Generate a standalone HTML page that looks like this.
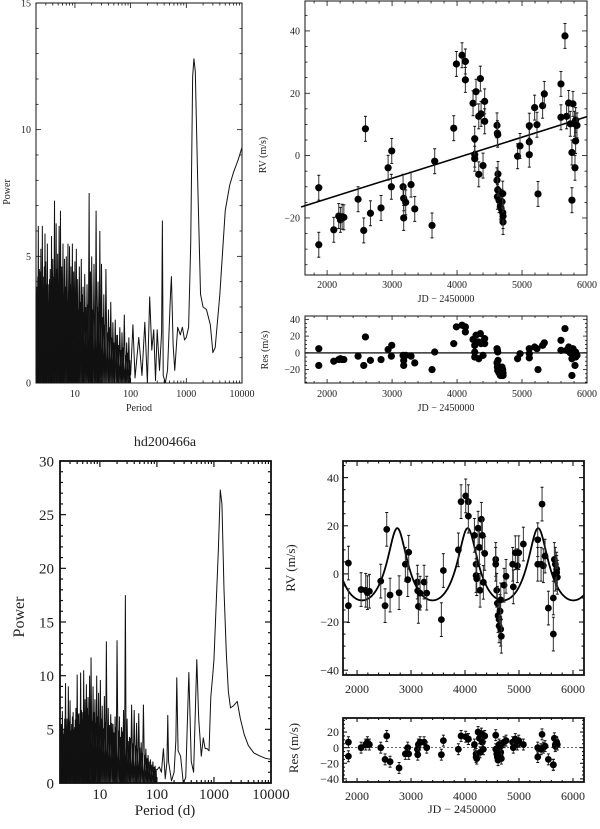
<!DOCTYPE html>
<html><head><meta charset="utf-8"><style>
html,body{margin:0;padding:0;background:#fff}
svg{display:block}
text{font-family:"Liberation Serif",serif;fill:#222}
</style></head><body>
<svg id="fig" width="600" height="829" viewBox="0 0 600 829" xmlns="http://www.w3.org/2000/svg"></svg>
<script>
// ---------- Panel A (top periodogram) ----------
const aSpikeP=[2,2.1,2.2,2.3,2.45,2.6,2.75,2.9,3,3.2,3.4,3.6,3.8,4,4.3,4.6,4.9,5.2,5.5,5.8,6.1,6.5,7,7.5,8,8.5,9,9.5,10,10.6,11.2,12,13,14,15,16.5,18,19,20,22,24,26,28,30,33,36,40,44,48,53,58,64,70,77,85,93];
const aSpikePow=[4.7,3.8,6.2,4.5,5.3,6.2,4.2,5.9,4.8,5.5,3.9,4.5,5.8,4.9,7.2,6.3,5.1,6.2,6.8,4.6,5.5,4.9,5.0,5.5,5.4,4.6,5.5,4.4,4.8,5.3,4.1,4.6,4.9,3.8,4.3,3.9,7.5,4.4,5.0,4.7,6.8,4.0,6.0,4.7,3.5,4.5,2.9,3.2,2.4,2.5,1.9,2.2,2.0,2.7,1.6,1.8];
const aSpike2P=[2.05,2.15,2.25,2.38,2.52,2.68,2.82,2.95,3.1,3.3,3.5,3.7,3.9,4.15,4.45,4.75,5.05,5.35,5.65,5.95,6.3,6.75,7.25,7.75,8.25,8.75,9.25,9.75,10.3,10.9,11.6,12.5,13.5,14.5,15.7,17.2,18.5,19.5,21,23,25,27,29,31.5,34.5,38,42,46,50,55,61,67,73,81,89,97];
const aSpike2Pow=[3.5,4.2,3.0,4.4,3.8,3.2,4.6,3.6,3.9,3.0,4.1,3.4,3.7,4.2,3.3,4.5,3.8,3.9,3.1,4.0,3.5,3.8,3.2,3.6,3.9,3.1,3.3,3.7,3.0,3.4,2.9,3.2,3.5,2.8,3.0,3.1,2.7,3.4,2.9,2.6,3.0,2.8,2.4,2.6,2.3,2.0,2.2,1.8,1.6,1.9,1.5,1.3,1.4,1.1,1.2,0.9];
const aSmoothP=[100,110,120,140,160,180,200,220,240,260,280,300,330,360,372,385,420,460,520,540,580,620,700,780,850,930,1000,1100,1200,1300,1370,1450,1600,1800,2000,2300,2700,3000,3300,4000,5000,6000,7000,8500,10000];
const aSmoothPow=[0.3,2.3,0.2,1.8,0.3,2.4,0,3.4,1.3,2.1,0.1,2.1,0.5,2.0,6.4,0.3,0,0.5,3.5,4.2,1.5,0.5,2.2,1.9,2.2,1.7,1.8,2.2,5.5,12.1,12.8,12.3,8,3.5,3,2.9,2.3,1.2,1.4,3.5,6.8,7.8,8.3,8.8,9.3];
// ---------- Panel B (top RV) ----------
const bJD=[1872,1872,2103,2179,2205,2231,2258,2477,2564,2590,2667,2830,2939,2995,2989,3169,3179,3179,3210,3292,3349,3615,3656,3949,3990,4077,4128,4128,4246,4272,4272,4272,4292,4334,4334,4359,4370,4400,4425,4425,4615,4621,4626,4630,4615,4621,4626,4646,4667,4677,4692,4703,4708,4708,4703,4932,4969,5112,5112,5112,5194,5230,5246,5317,5343,5599,5599,5661,5686,5718,5815,5743,5768,5768,5784,5809,5825,5825,5846];
const bRV=[-10.3,-28.6,-23.8,-19.4,-20.6,-19.6,-19.8,-14,-24,8.6,-18.5,-16.8,-3.9,1.5,-10,-10,-13.7,-20,-15,-9.3,-17.1,-22.4,-1.8,8.8,29.4,32.2,30.2,24.3,16.8,5.4,0.3,-1,20.5,12.6,-6,24.7,13.4,-3.2,17.4,11,9.7,7.2,6.7,-5.9,-7.9,-13.2,-11,-14.3,-16.4,-16.9,-14.8,-18.3,-21.3,-19.4,-12.2,-0.2,3.1,9.6,4.4,0.3,15.4,9.9,-12.3,16,19.8,23,12.3,38.4,12.6,16.9,-3.9,10.2,1,-14.3,16.6,10.2,11.4,4.7,9.7];
const bErr=4;
const bLineJD=[1600,6000];
const bLineRV=[-16.5,12.5];
const bRes=[5,-15,-10,-8,-7,-8,-8,-4,-15,19,-9,-8,4,9,-4,-3,-9,-15,-3,-4,-12,-20,1,11,31,33,31,25,16,9,1,-5,21,13,-7,23,11,-3,17,11,5,3,1,-9,-12,-17,-21,-24,-27,-21,-17,-27,-27,-24,-20,-7,-1,5,-1,-6,7,5,-20,9,12,15,3,29,3,7,-15,0,-7,-27,5,-1,-5,1,-3];
// ---------- Panel C (bottom periodogram) ----------
const cSpikeP=[2,2.1,2.2,2.35,2.5,2.65,2.8,3,3.2,3.4,3.6,3.8,4,4.3,4.6,4.9,5.2,5.5,5.8,6.2,6.6,7,7.6,8.2,8.8,9.5,10.2,11,12,13,14,15.5,17,18.5,20,22,24,26,28,30,33,36,40,44,48,53,58,64,70,77,85,93];
const cSpikePow=[4.0,5.5,6.7,5.0,9.3,6.0,9.0,7.7,5.5,6.6,5.2,7.0,10.1,6.5,10.3,6.6,10.5,7.8,9.2,8.0,10.0,11.7,9.0,7.8,10.0,8.4,9.6,7.2,8.1,13.2,7.0,6.4,5.5,6.2,13.3,6.2,5.2,6.8,17.5,6.0,4.3,7.3,6.8,5.6,6.5,3.8,7.3,3.2,2.6,2.2,2.0,1.6];
const cSpike2P=[2.05,2.15,2.28,2.42,2.58,2.72,2.9,3.1,3.3,3.5,3.7,3.9,4.15,4.45,4.75,5.05,5.35,5.65,6,6.4,6.8,7.3,7.9,8.5,9.15,9.85,10.6,11.5,12.5,13.5,14.7,16.2,17.7,19.2,21,23,25,27,29,31.5,34.5,38,42,46,50,55,61,67,73,81,89,97];
const cSpike2Pow=[5.2,3.8,4.6,6.0,5.1,4.4,5.8,4.9,6.2,5.0,5.9,4.7,6.4,5.5,6.8,5.9,6.6,5.2,7.0,6.3,6.9,5.8,6.6,5.6,6.2,5.3,6.0,5.1,5.7,4.8,5.4,5.6,4.7,5.2,4.9,4.3,4.8,4.1,4.5,3.9,4.2,3.7,3.5,3.2,3.3,2.8,2.6,2.3,2.0,1.7,1.5,1.3];
const cSmoothP=[100,110,120,130,140,150,155,160,180,200,215,223,235,260,290,320,363,400,440,500,540,600,650,700,760,820,880,950,1000,1100,1200,1290,1380,1500,1650,1790,1950,2200,2560,2900,3400,4000,5000,6500,8000,10000];
const cSmoothPow=[1.2,1.5,1.0,3.2,0.4,2.0,6.3,2.0,0.2,1.0,4.0,9.8,3.0,2.5,0,0.5,10.3,2.0,1.0,11.5,6.0,2.5,4.2,3.2,3.2,3.0,8.0,10.0,11.5,17.0,22.0,27.3,26.0,18.0,12.0,8.5,7.0,7.2,7.6,6.0,4.5,3.5,2.8,2.5,2.3,2.2];
// ---------- Panel D (bottom RV) ----------
const dJD=[1840,1840,2075,2161,2192,2229,2439,2519,2550,2612,2779,2895,2939,2957,3118,3124,3136,3168,3242,3291,3562,3599,3877,3927,4013,4062,4062,4174,4205,4205,4217,4242,4266,4279,4303,4321,4340,4365,4569,4569,4587,4599,4612,4631,4631,4649,4661,4673,4661,4723,4760,4883,4895,4932,4970,4995,5081,5347,5347,5409,5427,5451,5483,5544,5636,5636,5655,5673,5698,5710,5673,5698];
const dRV=[4.5,-13.2,-6.5,-6.8,-7.8,-7.2,-3,-13.2,18.5,-8.8,-7.8,4,-2.4,9,-3.4,-7,-13.5,-8,-3.4,-8,-19,1.4,10,30,32.4,30,24,16,4,-0.7,-2,19,11,-6.8,22.7,16,-3.5,8.5,6,4,-6.8,-12.2,-17.3,-18.9,-21.6,-15.5,-23,-25.9,-10.8,-4.7,-1,4,-5.4,8.8,3.4,8.8,12.4,14.2,4,4,29,3.4,7.4,-14.2,-10,-25,6,4,2,-1.4,-0.1,0.6];
const dErr=7;
const dRes=[7,-11,0,4,7,4,0,-15,15,-18,-26,-8,0,-8,-2,-9,4,7,7,0,-9,9,-2,15,14,11,11,4,-8,-12,-14,20,12,-6,18,7,-2,15,16,-2,-8,-12,-16,-4,4,-10,-6,-14,2,7,9,7,0,11,4,9,4,-12,0,-2,17,0,2,-15,-22,-22,12,4,7,4,2,6];
const dModelP=1305, dModelK=15, dModelE=0.3, dModelTp=4050, dModelG=-0.5;

const NS="http://www.w3.org/2000/svg";
const svg=document.getElementById('fig');
function mk(tag,attrs,parent){const e=document.createElementNS(NS,tag);for(const k in attrs)e.setAttribute(k,attrs[k]);(parent||svg).appendChild(e);return e;}
function txt(s,x,y,size,anchor,parent,rot){const t=mk('text',{x:x,y:y,'font-size':size,'text-anchor':anchor||'middle'},parent);if(rot)t.setAttribute('transform','rotate(-90 '+x+' '+y+')');t.textContent=s;return t;}

function linAxis(d0,d1,p0,p1){return v=>p0+(v-d0)/(d1-d0)*(p1-p0);}
function logAxis(d0,d1,p0,p1){const a=Math.log10(d0),b=Math.log10(d1);return v=>p0+(Math.log10(v)-a)/(b-a)*(p1-p0);}

function frame(g,x0,y0,x1,y1,sw){
  const r=mk('rect',{x:x0,y:y0,width:x1-x0,height:y1-y0,fill:'none',stroke:'#111','stroke-width':sw},g);
  
  
}
function tick(g,x1,y1,x2,y2,sw){mk('line',{x1:x1,y1:y1,x2:x2,y2:y2,stroke:'#111','stroke-width':sw},g);}

function xTicksLin(g,sx,x0,x1,y0,y1,d0,d1,maj,min,labels,fs,ly,sw,ml){
  for(let v=Math.ceil(d0/min)*min;v<=d1+1e-9;v+=min){const x=sx(v);const isM=Math.abs(v/maj-Math.round(v/maj))<1e-6;const L=isM?ml:ml/2;
    tick(g,x,y1,x,y1-L,sw);tick(g,x,y0,x,y0+L,sw);}
  if(labels) labels.forEach(v=>txt(String(v),sx(v),ly,fs,'middle',g));
}
function yTicksLin(g,sy,x0,x1,d0,d1,maj,min,labels,fs,lx,sw,ml){
  for(let v=Math.ceil(d0/min)*min;v<=d1+1e-9;v+=min){const y=sy(v);const isM=Math.abs(v/maj-Math.round(v/maj))<1e-6;const L=isM?ml:ml/2;
    tick(g,x0,y,x0+L,y,sw);tick(g,x1,y,x1-L,y,sw);}
  if(labels) labels.forEach(v=>{txt(v<0?'\u2212'+Math.abs(v):String(v),lx,sy(v)+fs*0.35,fs,'end',g);});
}
function xTicksLog(g,sx,y0,y1,d0,d1,labels,fs,ly,sw,ml){
  for(let e=0;e<5;e++)for(let m=1;m<10;m++){const v=m*Math.pow(10,e);if(v<d0||v>d1)continue;const x=sx(v);const L=m===1?ml:ml/2;
    tick(g,x,y1,x,y1-L,sw);tick(g,x,y0,x,y0+L,sw);}
  labels.forEach(v=>txt(String(v),sx(v),ly,fs,'middle',g));
}

function spikeLine(g,sx,sy,P,W,endP,sw,name){
  let pts=[];
  for(let i=0;i<P.length;i++){
    pts.push([sx(P[i]),sy(W[i])]);
    const nx=i+1<P.length?P[i+1]:endP;
    pts.push([(sx(P[i])+sx(nx))/2,sy(0)]);
  }
  const p=mk('polyline',{points:pts.map(q=>q[0].toFixed(2)+','+q[1].toFixed(2)).join(' '),fill:'none',stroke:'#111','stroke-width':sw,'stroke-linejoin':'miter'},g);
  
  
}
function periodogram(g,sx,sy,spP,spW,sp2P,sp2W,smP,smW,sw){
  spikeLine(g,sx,sy,sp2P,sp2W,smP[0],sw,'periodogram-noise-line');
  spikeLine(g,sx,sy,spP,spW,smP[0],sw,'periodogram-line');
  const pts=[];
  for(let i=0;i<smP.length;i++)pts.push(sx(smP[i]).toFixed(2)+','+sy(smW[i]).toFixed(2));
  const p=mk('polyline',{points:pts.join(' '),fill:'none',stroke:'#111','stroke-width':sw,'stroke-linejoin':'round'},g);
  
  
}
function points(g,sx,sy,xs,ys,err,r,name){
  for(let i=0;i<xs.length;i++){
    const x=sx(xs[i]),y=sy(ys[i]);
    if(err>0){
      const e=mk('line',{x1:x,y1:sy(ys[i]-err),x2:x,y2:sy(ys[i]+err),stroke:'#333','stroke-width':1},g);
      
      
      tick(g,x-1.5,sy(ys[i]-err),x+1.5,sy(ys[i]-err),1);tick(g,x-1.5,sy(ys[i]+err),x+1.5,sy(ys[i]+err),1);
    }
    const c=mk('circle',{cx:x,cy:y,r:r,fill:'#000'},g);
    
    
  }
}

// ===== Panel A =====
(function(){
  const g=mk('g',{});
  const x0=36,x1=242,y0=3,y1=383;
  const sx=logAxis(2,10000,x0,x1), sy=linAxis(0,15,y1,y0);
  periodogram(g,sx,sy,aSpikeP,aSpikePow,aSpike2P,aSpike2Pow,aSmoothP,aSmoothPow,1);
  frame(g,x0,y0,x1,y1,1);
  xTicksLog(g,sx,y0,y1,2,10000,[10,100,1000,10000],10,397,0.8,5);
  yTicksLin(g,sy,x0,x1,0,15,5,1,[0,5,10,15],10,31,0.8,5);
  const t1=txt('Period',139,411,10,'middle',g);
  const t2=txt('Power',10,192,10,'middle',g,true);
})();
// ===== Panel B =====
(function(){
  const g=mk('g',{});
  const x0=305,x1=587,y0=1,y1=275;
  const sx=linAxis(1660,6000,x0,x1), sy=linAxis(-38.3,49.6,y1,y0);
  const l=mk('line',{x1:sx(bLineJD[0]),y1:sy(bLineRV[0]),x2:sx(bLineJD[1]),y2:sy(bLineRV[1]),stroke:'#000','stroke-width':1.6},g);
  
  points(g,sx,sy,bJD,bRV,bErr,3.6,'rv-point');
  frame(g,x0,y0,x1,y1,1);
  xTicksLin(g,sx,x0,x1,y0,y1,1660,6000,1000,200,[2000,3000,4000,5000,6000],10,288,0.8,5);
  yTicksLin(g,sy,x0,x1,-38,49,20,5,[-20,0,20,40],10,300,0.8,5);
  const t1=txt('JD \u2212 2450000',446,302,10,'middle',g);
  const t2=txt('RV (m/s)',266,155,10,'middle',g,true);
  const ry0=316,ry1=383;
  const sr=linAxis(-36,44,ry1,ry0);
  const z=mk('line',{x1:x0,y1:sr(0),x2:x1,y2:sr(0),stroke:'#333','stroke-width':1.5},g);
  
  points(g,sx,sr,bJD,bRes,0,3.6,'residual-point');
  frame(g,x0,ry0,x1,ry1,1);
  xTicksLin(g,sx,x0,x1,ry0,ry1,1660,6000,1000,200,[2000,3000,4000,5000,6000],10,397,0.8,4);
  yTicksLin(g,sr,x0,x1,-36,44,20,5,[-20,0,20,40],10,300,0.8,4);
  const t3=txt('JD \u2212 2450000',446,411,10,'middle',g);
  const t4=txt('Res (m/s)',268,350,10,'middle',g,true);
})();
// ===== Panel C =====
(function(){
  const g=mk('g',{});
  const x0=60,x1=271,y0=461,y1=783;
  const sx=logAxis(2,10000,x0,x1), sy=linAxis(0,30,y1,y0);
  periodogram(g,sx,sy,cSpikeP,cSpikePow,cSpike2P,cSpike2Pow,cSmoothP,cSmoothPow,1);
  frame(g,x0,y0,x1,y1,1.8);
  xTicksLog(g,sx,y0,y1,2,10000,[10,100,1000,10000],15,799,1.2,6);
  yTicksLin(g,sy,x0,x1,0,30,5,1,[0,5,10,15,20,25,30],15,54,1.2,6);
  const t0=txt('hd200466a',165,446,14,'middle',g);
  const t1=txt('Period (d)',165,815,15,'middle',g);
  const t2=txt('Power',24,617,16,'middle',g,true);
})();
// ===== Panel D =====
(function(){
  const g=mk('g',{});
  const x0=343,x1=584,y0=461,y1=675;
  const jd0=1740,jd1=6204;
  const sx=linAxis(jd0,jd1,x0,x1), sy=linAxis(-42,46.9,y1,y0);
  let pts=[];
  for(let px=x0;px<=x1;px+=0.5){
    const t=jd0+(px-x0)/(x1-x0)*(jd1-jd0);
    let M=2*Math.PI*((t-dModelTp)/dModelP);M=M-2*Math.PI*Math.floor(M/(2*Math.PI));
    let E=M;for(let k=0;k<30;k++)E=E-(E-dModelE*Math.sin(E)-M)/(1-dModelE*Math.cos(E));
    const f=2*Math.atan2(Math.sqrt(1+dModelE)*Math.sin(E/2),Math.sqrt(1-dModelE)*Math.cos(E/2));
    const v=dModelK*(Math.cos(f)+dModelE)+dModelG;
    pts.push(px.toFixed(1)+','+sy(v).toFixed(2));
  }
  const m=mk('polyline',{points:pts.join(' '),fill:'none',stroke:'#000','stroke-width':1.8},g);
  
  points(g,sx,sy,dJD,dRV,dErr,3.4,'rv-point');
  frame(g,x0,y0,x1,y1,1.8);
  xTicksLin(g,sx,x0,x1,y0,y1,jd0,jd1,1000,200,[2000,3000,4000,5000,6000],12,693,1.1,5);
  yTicksLin(g,sy,x0,x1,-42,46,20,5,[-40,-20,0,20,40],12,339,1.1,5);
  const t2=txt('RV (m/s)',295,568,13,'middle',g,true);
  const ry0=718,ry1=782;
  const sr=linAxis(-44,38,ry1,ry0);
  const z=mk('line',{x1:x0,y1:sr(0),x2:x1,y2:sr(0),stroke:'#333','stroke-width':0.8,'stroke-dasharray':'2,2'},g);
  
  points(g,sx,sr,dJD,dRes,dErr,3.4,'residual-point');
  frame(g,x0,ry0,x1,ry1,1.8);
  xTicksLin(g,sx,x0,x1,ry0,ry1,jd0,jd1,1000,200,[2000,3000,4000,5000,6000],12,800,1.1,4);
  yTicksLin(g,sr,x0,x1,-44,38,20,5,[-40,-20,0,20],12,339,1.1,4);
  const t3=txt('JD \u2212 2450000',462,813,12,'middle',g);
  const t4=txt('Res (m/s)',298,748,13,'middle',g,true);
})();
</script>
</body></html>
